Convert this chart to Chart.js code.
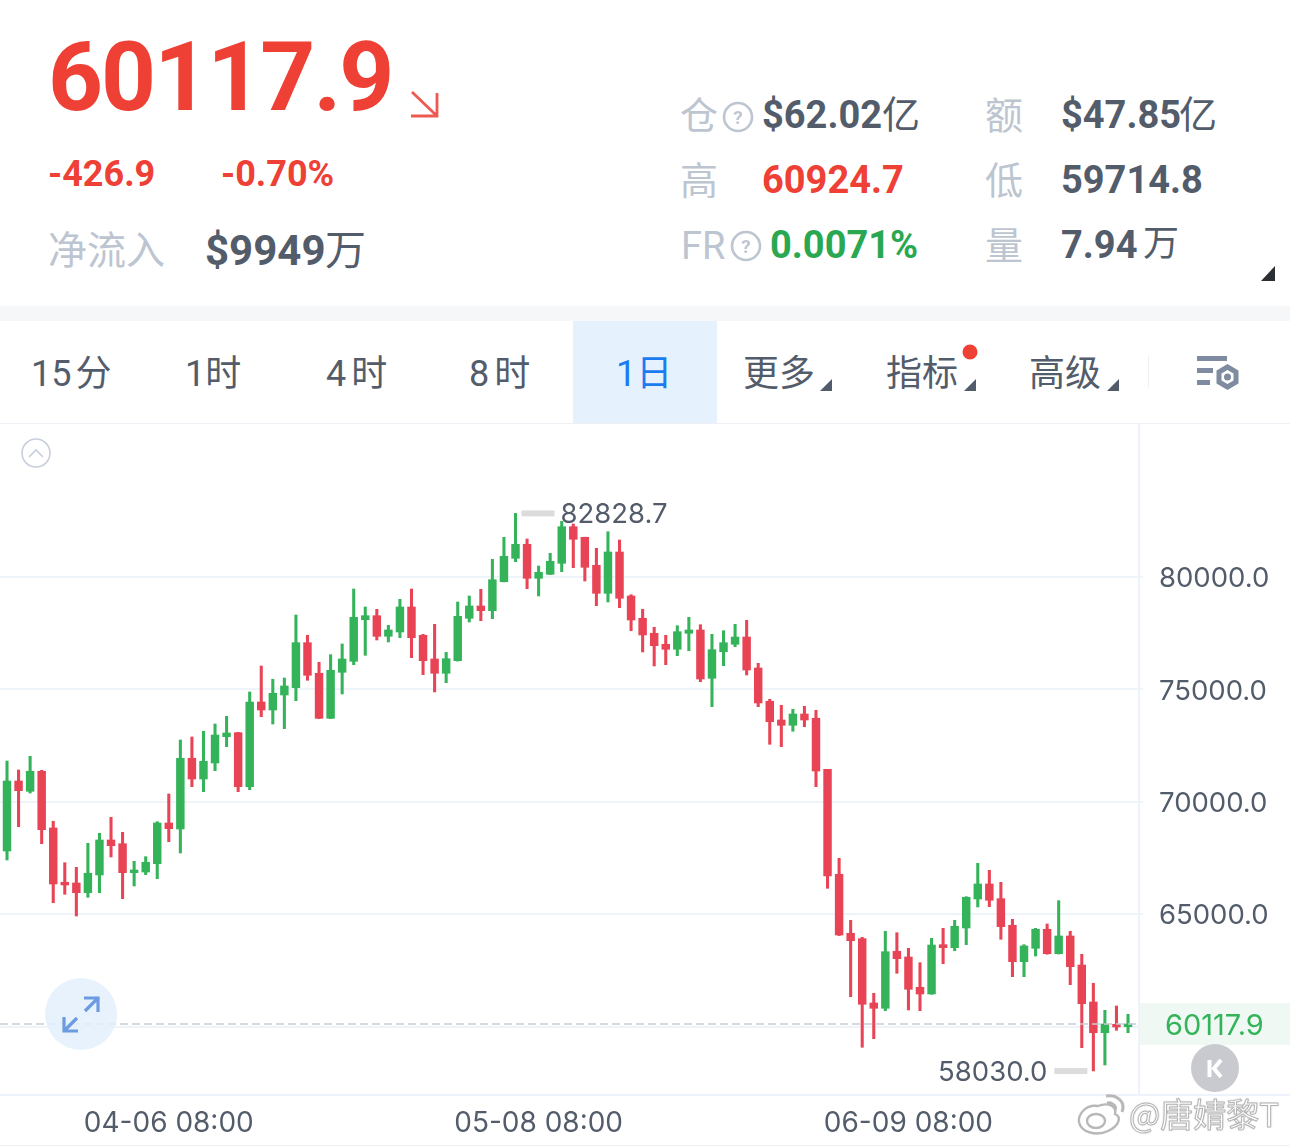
<!DOCTYPE html>
<html lang="zh">
<head>
<meta charset="utf-8">
<title>60117.9</title>
<script src="https://cdn.jsdelivr.net/npm/chart.js@4/dist/chart.umd.min.js"></script>
<style>
  html, body { margin: 0; padding: 0; background: #fff; }
  #page { position: relative; width: 1290px; height: 1146px; overflow: hidden; font-family: Roboto, "Noto Sans CJK SC", sans-serif; }
  #page span { position: absolute; white-space: nowrap; line-height: 1; }
  #page div { position: absolute; }
  #page svg { position: absolute; left: 0; top: 0; }
  #grafico { position: absolute; left: 0; top: 424px; }
  .dato { font-size: 38px; font-weight: 700; color: #535c6a; }
  .unidad { font-size: 38px; font-weight: 400; color: #535c6a; }
  .rotulo { font-size: 38px; color: #bcc5d0; }
  .tab { font-size: 36px; color: #535c6a; }
  .marca { font-family: "Noto Sans CJK SC", sans-serif; font-size: 33px; color: #fff; -webkit-text-stroke: 1px #b4b4b4; text-shadow: 0 0 2px rgba(0,0,0,.3); }
</style>
</head>
<body>
<div id="page">
  <span style="left:48px;top:29px;font-size:96px;font-weight:700;color:#ee4035;letter-spacing:-2px">60117.9</span>
  <span style="left:48px;top:156px;font-size:36px;font-weight:700;color:#ee4035">-426.9</span>
  <span style="left:221px;top:156px;font-size:36px;font-weight:700;color:#ee4035">-0.70%</span>
  <span class="rotulo" style="left:48px;top:232px;font-size:39px">净流入</span>
  <span class="dato" style="left:205px;top:230px;font-size:42px">$9949</span>
  <span class="unidad" style="left:325px;top:231px;font-size:41px">万</span>

  <span class="rotulo" style="left:680px;top:97px">仓</span>
  <span class="dato" style="left:762px;top:96px">$62.02</span>
  <span class="unidad" style="left:882px;top:96px">亿</span>
  <span class="rotulo" style="left:985px;top:97px">额</span>
  <span class="dato" style="left:1061px;top:96px">$47.85</span>
  <span class="unidad" style="left:1179px;top:96px">亿</span>
  <span class="rotulo" style="left:680px;top:162px">高</span>
  <span class="dato" style="left:762px;top:161px;color:#ee4035">60924.7</span>
  <span class="rotulo" style="left:985px;top:162px">低</span>
  <span class="dato" style="left:1061px;top:161px">59714.8</span>
  <span class="rotulo" style="left:681px;top:227px">FR</span>
  <span class="dato" style="left:770px;top:226px;color:#2aa851">0.0071%</span>
  <span class="rotulo" style="left:985px;top:227px">量</span>
  <span class="dato" style="left:1061px;top:226px">7.94</span>
  <span class="unidad" style="left:1143px;top:226px;font-size:36px">万</span>

  <div style="left:0;top:306px;width:1290px;height:15px;background:#f6f7f9"></div>
  <div style="left:573px;top:321px;width:144px;height:102px;background:#e5f1fd"></div>
  <div style="left:0;top:423px;width:1290px;height:1px;background:#eef0f6"></div>
  <div style="left:0;top:1145px;width:1290px;height:1px;background:#eef0f6"></div>

  <span class="tab" style="left:31px;top:356px;word-spacing:-5px">15 分</span>
  <span class="tab" style="left:185px;top:356px">1时</span>
  <span class="tab" style="left:326px;top:356px;letter-spacing:5px">4时</span>
  <span class="tab" style="left:469px;top:356px;letter-spacing:5px">8时</span>
  <span class="tab" style="left:616px;top:356px;color:#1a7cf0">1日</span>
  <span class="tab" style="left:743px;top:356px">更多</span>
  <span class="tab" style="left:886px;top:356px">指标</span>
  <span class="tab" style="left:1029px;top:356px">高级</span>

  <canvas id="grafico" width="1290" height="722"></canvas>

  <svg width="1290" height="1146" viewBox="0 0 1290 1146">
    <!-- flecha de bajada junto al precio -->
    <path d="M412 92 L437 116 M437 93 V116 H411" fill="none" stroke="#ee5a50" stroke-width="2.8"/>
    <!-- ayuda -->
    <g fill="none" stroke="#bcc5d0" stroke-width="2.6">
      <circle cx="738" cy="117" r="14"/>
      <circle cx="746" cy="246" r="14"/>
    </g>
    <g font-family="Roboto" font-size="19" font-weight="700" fill="#bcc5d0" text-anchor="middle">
      <text x="738" y="124">?</text>
      <text x="746" y="253">?</text>
    </g>
    <path d="M1275 266 V281 H1261 Z" fill="#2b2e33"/>
    <!-- triangulos de los menus -->
    <g fill="#535c6a">
      <path d="M832 379 V391 H820 Z"/>
      <path d="M976 379 V391 H964 Z"/>
      <path d="M1119 379 V391 H1107 Z"/>
    </g>
    <circle cx="970" cy="352" r="7.5" fill="#ee4035"/>
    <rect x="1148" y="355" width="1" height="33" fill="#eef0f6"/>
    <!-- icono de ajustes -->
    <g fill="#7f8ba0">
      <rect x="1197" y="356" width="30" height="5"/>
      <rect x="1197" y="368" width="16" height="5"/>
      <rect x="1197" y="380" width="13" height="5"/>
    </g>
    <path d="M1227.5 367 L1236 372 V382 L1227.5 387 L1219 382 V372 Z" fill="none" stroke="#7f8ba0" stroke-width="5"/>
    <circle cx="1227.5" cy="377" r="3.5" fill="#7f8ba0"/>
    <!-- plegar -->
    <circle cx="36" cy="453" r="14" fill="none" stroke="#c8cfdc" stroke-width="1.6"/>
    <path d="M29 457 L36 450 L43 457" fill="none" stroke="#c8cfdc" stroke-width="1.6"/>
    <!-- boton de expandir -->
    <circle cx="81" cy="1014" r="36" fill="#e4f0fd" fill-opacity="0.85"/>
    <g fill="none" stroke="#6b9be0" stroke-width="3.2">
      <path d="M85 1011 L98 998 M84 998 H98 V1012"/>
      <path d="M77 1018 L64 1031 M78 1031 H64 V1017"/>
    </g>
    <!-- volver al ultimo dato -->
    <circle cx="1215" cy="1068" r="24" fill="#c9cad0"/>
    <path d="M1209.500 1060 V1077" stroke="#fff" stroke-width="4"/>
    <path d="M1221 1060 L1214 1068.500 L1221 1077" fill="none" stroke="#fff" stroke-width="4"/>
    <!-- logo de la marca de agua -->
    <g fill="#fff" stroke="#b8b8b8" stroke-width="2.4">
      <path d="M1098 1106 C1086 1104 1078 1114 1079 1122 C1081 1133 1097 1136 1108 1131 C1119 1126 1122 1117 1115 1114 C1117 1106 1108 1102 1098 1106 Z"/>
      <ellipse cx="1096" cy="1121" rx="9" ry="7"/>
      <path d="M1106 1096 C1117 1094 1126 1102 1122 1112 M1107 1103 C1112 1102 1117 1106 1115 1110" fill="none" stroke-width="3"/>
    </g>
  </svg>
  <span class="marca" style="left:1129px;top:1097px">@唐婧黎T</span>
</div>

<script>
// Velas diarias
const dias = [
  '03-23','03-24','03-25','03-26','03-27','03-28','03-29','03-30','03-31',
  '04-01','04-02','04-03','04-04','04-05','04-06','04-07','04-08','04-09','04-10','04-11','04-12','04-13','04-14','04-15','04-16','04-17','04-18','04-19','04-20','04-21','04-22','04-23','04-24','04-25','04-26','04-27','04-28','04-29','04-30',
  '05-01','05-02','05-03','05-04','05-05','05-06','05-07','05-08','05-09','05-10','05-11','05-12','05-13','05-14','05-15','05-16','05-17','05-18','05-19','05-20','05-21','05-22','05-23','05-24','05-25','05-26','05-27','05-28','05-29','05-30','05-31',
  '06-01','06-02','06-03','06-04','06-05','06-06','06-07','06-08','06-09','06-10','06-11','06-12','06-13','06-14','06-15','06-16','06-17','06-18','06-19','06-20','06-21','06-22','06-23','06-24','06-25','06-26','06-27','06-28'
];
const aperturas = [
  67812,70926,70468,71358,68836,66420,66389,65958,66745,68302,
  68137,66847,66878,67248,69058,68791,71936,71015,71727,72897,
  73075,70673,74440,74084,74751,75076,77078,75717,73715,75761,
  76250,78101,78279,77362,77554,78666,77407,76353,75717,76277,
  78163,78710,78501,79791,80832,81454,79942,80120,80609,82237,
  81766,80520,79275,81112,79155,78163,77496,77007,76784,77496,
  77643,75494,76677,77007,77331,75952,74471,73639,73404,73906,
  73715,71440,66776,64152,63912,61052,60816,63351,63098,61750,
  61452,63645,63511,64388,65677,66345,65691,64508,62889,63485,
  64330,63244,64032,62742,61096,59730,60104,59997
];
const maximos = [
  71816,71415,72025,71402,69134,67292,67087,68155,68600,69311,
  68644,67354,67559,69116,70348,72750,72883,73137,73461,73804,
  73092,74885,76041,75450,75508,78310,77407,76206,76544,77020,
  79466,78666,78563,77852,79008,79466,77451,77896,76651,78888,
  79155,79453,80787,81766,82828.7,81690,80489,81054,82478,82357,
  81770,81277,82015,81646,79213,78563,77763,77407,77834,78207,
  77878,77451,77611,77896,78074,76161,74560,74293,74115,74249,
  74071,71446,67488,64730,63974,61483,64241,64178,63485,62844,
  63929,64374,64730,65780,67265,66954,66420,64774,63645,64374,
  64565,65602,64241,63218,61928,60727,60918,60549
];
const minimos = [
  67412,68893,70392,68137,65513,65886,64921,65753,65958,67546,
  65691,66256,66758,66580,68226,67724,70673,70450,71384,72452,
  70450,70539,73786,73461,73252,74498,75405,73700,73700,74796,
  76099,76517,77198,77109,77300,76410,75654,74885,75299,76260,
  77998,78056,78145,79780,80681,79480,79155,80110,80236,80414,
  79822,78723,78888,78634,77611,76664,76041,76099,76499,76722,
  75343,74231,76055,76900,75641,74231,72558,72452,73137,73341,
  70673,66153,64050,61332,59081,59464,60709,62373,60740,60709,
  61440,62800,63378,63645,65322,65335,63885,62221,62221,63142,
  63220,63230,61866,59063,58030,58294,59837,59730
];
const cierres = [
  70926,70495,71358,68760,66345,66300,65958,66821,68302,68048,
  66847,66967,67310,69058,68804,71936,71015,71802,72972,73061,
  70673,74440,74084,74827,75152,77078,75628,73715,75850,76353,
  78207,78279,77362,77643,78666,77300,76277,75717,76366,78252,
  78710,78501,79880,80921,81454,79942,80209,80698,82237,81677,
  80431,79275,81112,79053,78087,77420,76944,76784,77567,77643,
  75463,76766,77078,77331,75863,74396,73564,73404,73906,73639,
  71371,66700,64076,63823,60994,60816,63333,63022,61661,61452,
  63631,63511,64463,65753,66345,65620,64445,62889,63587,64330,
  63244,64032,62666,61020,59730,60117,59984,60117.9
];
const ticksPrecio = [60000, 65000, 70000, 75000, 80000];
const ticksDia = [14, 46, 78];
const precioActual = 60117.9;
const maxEtiqueta = { indice: 44, valor: 82828.7 };
const minEtiqueta = { indice: 94, valor: 58030.0 };

const rojo = '#e84455';
const verde = '#34b35a';
const colorVela = aperturas.map((a, i) => cierres[i] >= a ? verde : rojo);
const fuenteEje = '27.5px Inter, sans-serif';

// Lineas del marco, precio actual y etiquetas de maximo y minimo
const extras = {
  id: 'extras',
  beforeDatasetsDraw(chart) {
    const { ctx, chartArea } = chart;
    ctx.save();
    ctx.fillStyle = '#eef3fb';
    ctx.fillRect(chartArea.right - 1, 0, 2, chartArea.bottom);
    ctx.fillRect(0, chartArea.bottom - 1, chart.width, 2);
    ctx.restore();
  },
  afterDatasetsDraw(chart) {
    const { ctx, chartArea, scales } = chart;
    const x = scales.x, y = scales.y;
    const yPrecio = y.getPixelForValue(precioActual);
    ctx.save();
    ctx.strokeStyle = '#c6cdd9';
    ctx.lineWidth = 1.6;
    ctx.setLineDash([8, 4]);
    ctx.beginPath();
    ctx.moveTo(0, yPrecio);
    ctx.lineTo(chartArea.right, yPrecio);
    ctx.stroke();
    ctx.setLineDash([]);

    ctx.fillStyle = '#eff8f2';
    ctx.fillRect(chartArea.right + 1, yPrecio - 21, chart.width - chartArea.right, 42);
    ctx.fillStyle = '#34b35a';
    ctx.font = '29px Inter, sans-serif';
    ctx.textAlign = 'left';
    ctx.textBaseline = 'middle';
    ctx.fillText(precioActual.toFixed(1), 1165, yPrecio + 2);

    ctx.font = fuenteEje;
    const xMax = x.getPixelForValue(maxEtiqueta.indice);
    const yMax = y.getPixelForValue(maxEtiqueta.valor);
    ctx.fillStyle = '#dcdcdc';
    ctx.fillRect(xMax + 6, yMax - 3, 33, 6);
    ctx.fillStyle = '#535c6a';
    ctx.fillText(maxEtiqueta.valor.toFixed(1), xMax + 45, yMax + 1);

    const xMin = x.getPixelForValue(minEtiqueta.indice);
    const yMin = y.getPixelForValue(minEtiqueta.valor);
    ctx.fillStyle = '#dcdcdc';
    ctx.fillRect(xMin - 39, yMin - 3, 33, 6);
    ctx.fillStyle = '#535c6a';
    ctx.textAlign = 'right';
    ctx.fillText(minEtiqueta.valor.toFixed(1), xMin - 46, yMin + 2);
    ctx.restore();
  }
};

new Chart(document.getElementById('grafico'), {
  type: 'bar',
  data: {
    datasets: [
      {
        label: 'mecha',
        data: dias.map((d, i) => ({ x: i, y: [minimos[i], maximos[i]] })),
        backgroundColor: colorVela,
        barThickness: 2.4,
        grouped: false
      },
      {
        label: 'cuerpo',
        data: dias.map((d, i) => ({ x: i, y: [aperturas[i], cierres[i]] })),
        backgroundColor: colorVela,
        barThickness: 7.8,
        grouped: false
      }
    ]
  },
  options: {
    responsive: false,
    animation: false,
    layout: { padding: 0 },
    plugins: { legend: { display: false }, tooltip: { enabled: false } },
    scales: {
      x: {
        type: 'linear',
        offset: false,
        min: -0.606,
        max: 97.95,
        grid: { display: false },
        border: { display: false },
        afterBuildTicks(eje) { eje.ticks = ticksDia.map(v => ({ value: v })); },
        afterFit(eje) { eje.height = 51; eje.paddingLeft = 0; eje.paddingRight = 0; },
        ticks: {
          autoSkip: false,
          maxRotation: 0,
          padding: 4,
          color: '#535c6a',
          font: { family: 'Inter', size: 28 },
          callback: v => dias[v] + ' 08:00'
        }
      },
      y: {
        position: 'right',
        offset: false,
        min: 56959,
        max: 86805,
        border: { display: false },
        grid: { color: '#eff4fb', lineWidth: 2, tickLength: 4 },
        afterBuildTicks(eje) { eje.ticks = ticksPrecio.map(v => ({ value: v })); },
        afterFit(eje) { eje.width = 151; eje.paddingTop = 0; eje.paddingBottom = 0; },
        ticks: {
          autoSkip: false,
          padding: 16,
          labelOffset: 2,
          color: '#535c6a',
          font: { family: 'Inter', size: 27.5 },
          callback: v => v === 60000 ? '' : v.toFixed(1)
        }
      }
    }
  },
  plugins: [extras]
});
</script>
</body>
</html>
